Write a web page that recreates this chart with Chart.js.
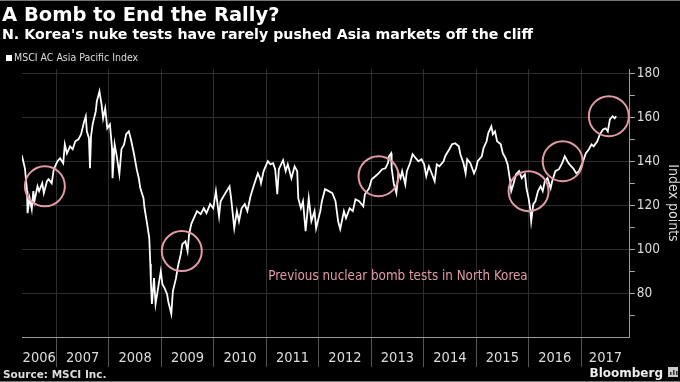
<!DOCTYPE html>
<html>
<head>
<meta charset="utf-8">
<script src="https://cdn.jsdelivr.net/npm/chart.js@4.4.1/dist/chart.umd.min.js"></script>
<style>
  html, body { margin: 0; padding: 0; background: #000; }
  canvas { display: block; }
</style>
</head>
<body>
<canvas id="chart" width="680" height="382"></canvas>
<script>
// MSCI AC Asia Pacific Index (decimal years)
const weeks = [
  2006.34, 2006.40, 2006.44, 2006.45, 2006.49, 2006.53, 2006.56, 2006.58, 2006.64, 2006.67,
  2006.73, 2006.76, 2006.82, 2006.85, 2006.91, 2006.95, 2007.02, 2007.07, 2007.13, 2007.16,
  2007.20, 2007.26, 2007.31, 2007.36, 2007.42, 2007.47, 2007.53, 2007.56, 2007.58, 2007.62,
  2007.64, 2007.66, 2007.69, 2007.75, 2007.77, 2007.82, 2007.86, 2007.89, 2007.93, 2007.97,
  2008.02, 2008.06, 2008.07, 2008.11, 2008.15, 2008.20, 2008.24, 2008.29, 2008.33, 2008.38,
  2008.42, 2008.48, 2008.53, 2008.57, 2008.60, 2008.66, 2008.68, 2008.73, 2008.77, 2008.79,
  2008.80, 2008.82, 2008.86, 2008.89, 2008.95, 2008.99, 2009.02, 2009.06, 2009.11, 2009.13,
  2009.19, 2009.22, 2009.28, 2009.31, 2009.37, 2009.40, 2009.46, 2009.50, 2009.53, 2009.57,
  2009.62, 2009.68, 2009.75, 2009.81, 2009.86, 2009.93, 2009.99, 2010.04, 2010.10, 2010.13,
  2010.22, 2010.30, 2010.33, 2010.39, 2010.44, 2010.48, 2010.53, 2010.59, 2010.64, 2010.70,
  2010.77, 2010.84, 2010.88, 2010.90, 2010.95, 2011.03, 2011.08, 2011.13, 2011.17, 2011.21,
  2011.24, 2011.32, 2011.37, 2011.41, 2011.48, 2011.54, 2011.59, 2011.61, 2011.66, 2011.70,
  2011.75, 2011.81, 2011.86, 2011.92, 2011.95, 2012.03, 2012.06, 2012.12, 2012.19, 2012.26,
  2012.32, 2012.37, 2012.41, 2012.48, 2012.52, 2012.59, 2012.65, 2012.70, 2012.77, 2012.85,
  2012.88, 2012.96, 2013.01, 2013.08, 2013.14, 2013.21, 2013.27, 2013.32, 2013.34, 2013.38,
  2013.39, 2013.43, 2013.48, 2013.52, 2013.56, 2013.59, 2013.65, 2013.68, 2013.74, 2013.79,
  2013.85, 2013.90, 2013.96, 2014.01, 2014.05, 2014.10, 2014.16, 2014.21, 2014.25, 2014.30,
  2014.38, 2014.41, 2014.49, 2014.54, 2014.60, 2014.67, 2014.70, 2014.76, 2014.80, 2014.83,
  2014.89, 2014.96, 2015.00, 2015.03, 2015.11, 2015.14, 2015.20, 2015.23, 2015.29, 2015.32,
  2015.36, 2015.40, 2015.47, 2015.51, 2015.56, 2015.60, 2015.65, 2015.67, 2015.71, 2015.76,
  2015.82, 2015.87, 2015.93, 2015.96, 2016.00, 2016.03, 2016.05, 2016.09, 2016.13, 2016.18,
  2016.23, 2016.27, 2016.31, 2016.36, 2016.42, 2016.45, 2016.51, 2016.58, 2016.64, 2016.69,
  2016.74, 2016.78, 2016.85, 2016.91, 2016.96, 2017.04, 2017.09, 2017.15, 2017.20, 2017.24,
  2017.31, 2017.36, 2017.42, 2017.47, 2017.51, 2017.55, 2017.60, 2017.64, 2017.67
];
const index = [
  142.7, 136.8, 126.4, 116.4, 123.2, 118.2, 126.4, 121.8, 128.6, 126.4,
  130.0, 125.5, 130.9, 131.8, 130.0, 136.4, 140.0, 141.4, 139.1, 147.7,
  143.6, 146.8, 145.5, 149.1, 150.0, 152.3, 158.2, 160.5, 153.6, 150.5,
  136.8, 151.4, 156.8, 162.7, 167.3, 171.8, 165.9, 159.5, 164.1, 155.0,
  156.8, 145.9, 132.3, 147.7, 142.3, 134.1, 145.5, 147.7, 152.3, 153.6,
  150.0, 143.2, 136.4, 132.3, 127.7, 123.2, 118.6, 111.4, 105.0, 93.2,
  85.5, 75.0, 86.8, 75.0, 84.1, 90.0, 84.1, 82.3, 79.5, 76.4,
  70.5, 80.9, 86.8, 91.4, 97.7, 102.3, 103.6, 99.1, 106.8, 111.4,
  114.1, 117.3, 115.9, 118.6, 116.4, 120.5, 118.6, 126.4, 115.0, 121.8,
  125.5, 128.6, 123.2, 109.5, 117.3, 112.7, 118.6, 120.5, 117.3, 124.1,
  129.5, 134.5, 132.3, 130.0, 135.5, 140.0, 138.6, 139.1, 136.4, 125.0,
  136.4, 140.5, 135.5, 138.6, 132.3, 137.7, 135.5, 123.2, 118.6, 121.8,
  108.2, 123.2, 112.7, 117.3, 109.5, 117.3, 121.8, 127.3, 126.4, 125.5,
  121.8, 112.7, 109.1, 117.3, 114.1, 118.6, 117.3, 122.7, 121.8, 119.5,
  125.0, 127.7, 131.8, 133.2, 134.5, 136.4, 136.8, 139.1, 142.3, 143.6,
  136.8, 130.0, 125.5, 134.5, 132.3, 135.5, 129.5, 135.5, 139.1, 143.2,
  141.4, 140.0, 140.9, 138.6, 133.2, 137.7, 134.1, 130.9, 138.6, 137.7,
  140.0, 142.3, 145.5, 147.7, 148.2, 146.8, 143.2, 139.1, 134.5, 140.9,
  139.1, 134.5, 136.8, 140.0, 142.3, 145.9, 149.1, 152.7, 155.9, 152.3,
  153.6, 149.1, 147.7, 143.6, 141.4, 138.6, 130.9, 126.4, 129.5, 134.1,
  135.5, 132.3, 134.1, 127.7, 123.2, 118.6, 112.7, 120.5, 121.8, 126.4,
  128.6, 126.4, 130.9, 132.3, 127.7, 130.9, 135.5, 136.4, 139.1, 142.3,
  140.0, 138.6, 136.8, 134.5, 135.5, 140.0, 143.6, 145.5, 147.7, 146.8,
  149.1, 152.3, 154.5, 155.0, 153.6, 159.1, 160.5, 159.5, 160.5
];

// North Korean nuclear tests (circle centres as drawn)
const testDates = [2006.78, 2009.39, 2013.14, 2016.00, 2016.65, 2017.53];
const testLevels = [128.6, 99.1, 133.2, 126.4, 140.0, 160.5];

const years = [2006, 2007, 2008, 2009, 2010, 2011, 2012, 2013, 2014, 2015, 2016, 2017];
const yTicks = [70, 80, 90, 100, 110, 120, 130, 140, 150, 160, 170, 180];

const NARROW = "'Liberation Sans Narrow', 'DejaVu Sans Condensed', Roboto, sans-serif";
const BOLD = "'DejaVu Sans', 'Open Sans', sans-serif";
const PINK = '#e29aa7';

const decorations = {
  id: 'decorations',
  beforeDraw(chart) {
    const c = chart.ctx;
    c.save();
    c.fillStyle = '#000';
    c.fillRect(0, 0, chart.width, chart.height);
    c.fillStyle = '#777';
    c.fillRect(0, 0, chart.width, 1);
    c.fillRect(0, chart.height - 1, chart.width, 1);
    c.restore();
  },
  afterDraw(chart) {
    const c = chart.ctx;
    const x = chart.scales.x;
    const y = chart.scales.y;
    const area = chart.chartArea;
    c.save();
    c.textBaseline = 'alphabetic';
    c.textAlign = 'left';

    c.fillStyle = '#fff';
    c.font = 'bold 19.5px ' + BOLD;
    c.fillText('A Bomb to End the Rally?', 2, 21);
    c.font = 'bold 14.2px ' + BOLD;
    c.fillText("N. Korea's nuke tests have rarely pushed Asia markets off the cliff", 2, 39);

    c.fillRect(6, 55, 6, 6);
    c.fillStyle = '#ddd';
    c.font = '10.5px ' + NARROW;
    c.fillText('MSCI AC Asia Pacific Index', 14, 61);

    // year labels centred in each year
    c.font = '14.5px ' + NARROW;
    c.textAlign = 'center';
    c.fillStyle = '#ddd';
    years.forEach(yr => {
      const l = Math.max(x.getPixelForValue(yr), area.left);
      const r = Math.min(x.getPixelForValue(yr + 1), area.right);
      if (r - l > 20) c.fillText(String(yr), (l + r) / 2, 362);
    });

    // annotation
    c.fillStyle = PINK;
    c.font = '13.3px ' + NARROW;
    c.textBaseline = 'middle';
    c.fillText('Previous nuclear bomb tests in North Korea', x.getPixelForValue(2013.51), y.getPixelForValue(87.3));

    // footer
    c.textBaseline = 'alphabetic';
    c.textAlign = 'left';
    c.fillStyle = '#ddd';
    c.font = 'bold 10.5px ' + BOLD;
    c.fillText('Source: MSCI Inc.', 3, 378);
    c.textAlign = 'right';
    c.fillStyle = '#eee';
    c.font = 'bold 12px ' + BOLD;
    c.fillText('Bloomberg', 663, 377);
    c.fillStyle = '#ccc';
    c.fillRect(668, 367, 10, 10);
    c.fillStyle = '#333';
    c.fillRect(670, 372, 1.5, 3);
    c.fillRect(673, 370, 1.5, 5);
    c.fillRect(676, 371, 1.5, 4);
    c.restore();
  }
};

const ctx = document.getElementById('chart').getContext('2d');
const chart = new Chart(ctx, {
  type: 'line',
  data: {
    datasets: [{
      data: weeks.map((w, i) => ({ x: w, y: index[i] })),
      borderColor: '#fff',
      borderWidth: 1.8,
      pointRadius: 0,
      tension: 0,
      order: 2
    }, {
      type: 'scatter',
      data: testDates.map((d, i) => ({ x: d, y: testLevels[i] })),
      pointRadius: 20,
      pointHoverRadius: 20,
      pointBorderWidth: 2,
      pointBorderColor: PINK,
      pointBackgroundColor: 'rgba(0,0,0,0)',
      showLine: false,
      order: 1
    }]
  },
  options: {
    responsive: false,
    animation: false,
    devicePixelRatio: 1,
    layout: { padding: { top: 69, left: 0, right: 0, bottom: 15 } },
    plugins: {
      legend: { display: false },
      title: { display: false },
      tooltip: { enabled: false }
    },
    scales: {
      x: {
        type: 'linear',
        min: 2006.344,
        max: 2017.93,
        afterBuildTicks: s => { s.ticks = years.slice(1).map(v => ({ value: v })); },
        ticks: { display: false },
        grid: { color: '#2e2e2e', tickColor: '#555', tickLength: 30, lineWidth: 1 },
        border: { color: '#9a9a9a', width: 1 }
      },
      y: {
        position: 'right',
        min: 60,
        max: 182,
        afterBuildTicks: s => { s.ticks = yTicks.map(v => ({ value: v })); },
        ticks: {
          color: '#ddd',
          padding: 2,
          font: { family: NARROW, size: 13.5 },
          callback: v => (v % 20 === 0 ? String(v) : '')
        },
        grid: {
          color: c => (c.tick && c.tick.value % 20 === 0 ? '#2e2e2e' : 'rgba(0,0,0,0)'),
          tickColor: '#aaa',
          tickLength: 5
        },
        border: { color: '#9a9a9a', width: 1 },
        title: {
          display: true,
          text: 'Index points',
          color: '#ddd',
          font: { family: NARROW, size: 14, lineHeight: 1 },
          padding: { top: 0, bottom: 4 }
        }
      }
    }
  },
  plugins: [decorations]
});
</script>
</body>
</html>
